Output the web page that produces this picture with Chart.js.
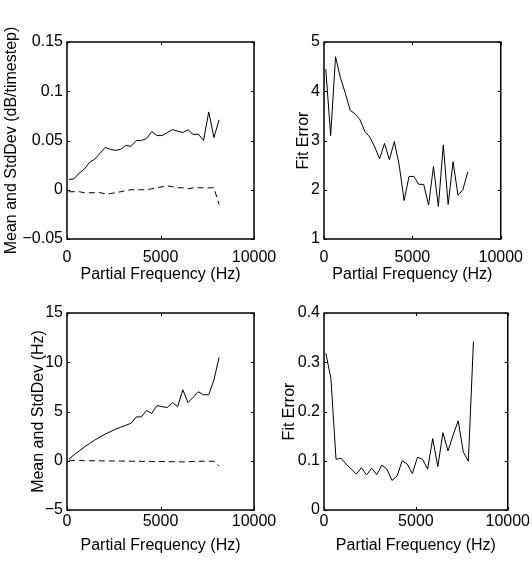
<!DOCTYPE html>
<html>
<head>
<meta charset="utf-8">
<script src="https://cdn.jsdelivr.net/npm/chart.js@4/dist/chart.umd.min.js"></script>
<style>
  html, body { margin: 0; padding: 0; background: #fff; }
  #wrap { position: relative; width: 532px; height: 567px; overflow: hidden; }
  canvas { position: absolute; }
</style>
</head>
<body>
<div id="wrap">
  <canvas id="ampStats" width="290" height="290" style="left:0;top:0;width:290px;height:290px"></canvas>
  <canvas id="ampFit" width="262" height="290" style="left:270px;top:0;width:262px;height:290px"></canvas>
  <canvas id="freqStats" width="290" height="277" style="left:0;top:290px;width:290px;height:277px"></canvas>
  <canvas id="freqFit" width="262" height="277" style="left:270px;top:290px;width:262px;height:277px"></canvas>
</div>
<script>
// partial frequencies (Hz), shared by all four panels
const partialFreqs = [100, 377, 654, 931, 1208, 1485, 1762, 2039, 2316, 2593,
  2870, 3147, 3424, 3701, 3978, 4255, 4532, 4809, 5086, 5363,
  5640, 5917, 6194, 6471, 6748, 7025, 7302, 7579, 7856, 8133];

// amplitude (dB/timestep)
const ampStdDev = [0.0105, 0.011, 0.017, 0.021, 0.028, 0.031, 0.037, 0.043, 0.041, 0.040,
  0.041, 0.045, 0.044, 0.050, 0.050, 0.052, 0.059, 0.055, 0.055, 0.058,
  0.061, 0.0595, 0.058, 0.061, 0.056, 0.0565, 0.050, 0.079, 0.053, 0.071];
const ampMean = [-0.002, -0.002, -0.002, -0.003, -0.003, -0.003, -0.003, -0.004, -0.004, -0.003,
  -0.002, -0.001, 0.000, 0.000, 0.000, 0.000, 0.001, 0.002, 0.003, 0.004,
  0.003, 0.002, 0.002, 0.001, 0.002, 0.002, 0.002, 0.002, 0.002, -0.015];
const ampFitError = [4.45, 3.1, 4.7, 4.27, 3.96, 3.61, 3.54, 3.42, 3.18, 3.07,
  2.87, 2.63, 2.94, 2.61, 2.98, 2.5, 1.78, 2.27, 2.27, 2.11,
  2.11, 1.69, 2.47, 1.66, 2.91, 1.7, 2.57, 1.89, 2.0, 2.36];

// frequency (Hz)
const freqStdDev = [0.17, 0.6, 1.0, 1.4, 1.75, 2.1, 2.4, 2.7, 2.95, 3.2,
  3.4, 3.6, 3.8, 4.45, 4.45, 5.1, 4.8, 5.6, 5.5, 5.4,
  5.9, 5.5, 7.2, 5.9, 6.45, 7.0, 6.7, 6.7, 8.2, 10.5];
const freqMean = [0.05, 0.03, 0.02, 0.01, 0.0, 0.0, -0.01, -0.02, -0.02, -0.03,
  -0.03, -0.04, -0.05, -0.05, -0.06, -0.06, -0.07, -0.08, -0.08, -0.09,
  -0.1, -0.1, -0.12, -0.1, -0.08, -0.06, -0.05, -0.04, -0.05, -0.55];
const freqFitError = [0.318, 0.267, 0.103, 0.105, 0.093, 0.083, 0.073, 0.086, 0.071, 0.085,
  0.072, 0.091, 0.083, 0.060, 0.069, 0.100, 0.093, 0.074, 0.107, 0.103,
  0.083, 0.145, 0.088, 0.157, 0.120, 0.152, 0.181, 0.118, 0.099, 0.342];

// tick labels
const freqTicks = [0, 5000, 10000];
const ampStatsTicks = [-0.05, 0, 0.05, 0.1, 0.15];
const ampFitTicks = [1, 2, 3, 4, 5];
const freqStatsTicks = [-5, 0, 5, 10, 15];
const freqFitTicks = [0, 0.1, 0.2, 0.3, 0.4];

Chart.defaults.font.family = '"Liberation Sans", Arial, sans-serif';
Chart.defaults.font.size = 16;
Chart.defaults.color = '#000';

const toPoints = vals => vals.map((v, i) => ({x: partialFreqs[i], y: v}));
const fmt = v => String(+v.toFixed(4)).replace('-', '\u2212');

// matlab style box with inward ticks on all sides
const frame = {
  id: 'frame',
  afterDraw(chart) {
    const {ctx, chartArea: a, scales: {x, y}} = chart;
    ctx.save();
    ctx.strokeStyle = '#000';
    ctx.lineWidth = 1;
    ctx.beginPath();
    x.ticks.forEach(t => {
      const p = Math.round(x.getPixelForValue(t.value)) + 0.5;
      ctx.moveTo(p, a.bottom); ctx.lineTo(p, a.bottom - 3);
      ctx.moveTo(p, a.top); ctx.lineTo(p, a.top + 3);
    });
    y.ticks.forEach(t => {
      const p = Math.round(y.getPixelForValue(t.value)) + 0.5;
      ctx.moveTo(a.left, p); ctx.lineTo(a.left + 3, p);
      ctx.moveTo(a.right, p); ctx.lineTo(a.right - 3, p);
    });
    ctx.stroke();
    ctx.lineWidth = 1.5;
    ctx.strokeRect(a.left, a.top, a.right - a.left, a.bottom - a.top);
    ctx.restore();
  }
};

function makePanel(id, cfg) {
  const datasets = cfg.series.map(s => ({
    data: toPoints(s.values),
    borderColor: '#000',
    borderWidth: 1,
    borderDash: s.dashed ? [6, 4] : [],
    pointRadius: 0,
    tension: 0,
    fill: false
  }));
  new Chart(document.getElementById(id), {
    type: 'line',
    data: {datasets},
    options: {
      responsive: false,
      animation: false,
      events: [],
      layout: {padding: cfg.padding},
      plugins: {legend: {display: false}, tooltip: {enabled: false}},
      scales: {
        x: {
          type: 'linear',
          min: 0, max: 10000,
          grid: {display: false, drawTicks: false},
          border: {display: false},
          afterBuildTicks: s => { s.ticks = freqTicks.map(v => ({value: v})); },
          afterFit: s => { s.height = cfg.xHeight; },
          ticks: {autoSkip: false, maxRotation: 0, padding: cfg.xTickPad, callback: v => String(v)},
          title: {display: true, text: 'Partial Frequency (Hz)', padding: {top: 0, bottom: cfg.xTitlePad}}
        },
        y: {
          type: 'linear',
          min: cfg.yTicks[0], max: cfg.yTicks[cfg.yTicks.length - 1],
          grid: {display: false, drawTicks: false},
          border: {display: false},
          afterBuildTicks: s => { s.ticks = cfg.yTicks.map(v => ({value: v})); },
          afterFit: s => { s.width = cfg.yWidth; },
          ticks: {padding: 4, callback: v => fmt(v)},
          title: {display: true, text: cfg.yTitle, padding: {top: cfg.yTitlePad, bottom: 0}}
        }
      }
    },
    plugins: [frame]
  });
}

makePanel('ampStats', {
  series: [{values: ampStdDev}, {values: ampMean, dashed: true}],
  yTicks: ampStatsTicks, yTitle: 'Mean and StdDev (dB/timestep)',
  padding: {left: 0, top: 42, right: 36, bottom: 0},
  xHeight: 51, yWidth: 67, xTickPad: 9, xTitlePad: 6, yTitlePad: 2
});
makePanel('ampFit', {
  series: [{values: ampFitError}],
  yTicks: ampFitTicks, yTitle: 'Fit Error',
  padding: {left: 0, top: 42, right: 20, bottom: 0},
  xHeight: 51, yWidth: 54, xTickPad: 9, xTitlePad: 6, yTitlePad: 24
});
makePanel('freqStats', {
  series: [{values: freqStdDev}, {values: freqMean, dashed: true}],
  yTicks: freqStatsTicks, yTitle: 'Mean and StdDev (Hz)',
  padding: {left: 0, top: 23, right: 36, bottom: 0},
  xHeight: 57, yWidth: 67, xTickPad: 2, xTitlePad: 12, yTitlePad: 29
});
makePanel('freqFit', {
  series: [{values: freqFitError}],
  yTicks: freqFitTicks, yTitle: 'Fit Error',
  padding: {left: 0, top: 23, right: 20, bottom: 0},
  xHeight: 57, yWidth: 54, xTickPad: 2, xTitlePad: 12, yTitlePad: 10
});
</script>
</body>
</html>
